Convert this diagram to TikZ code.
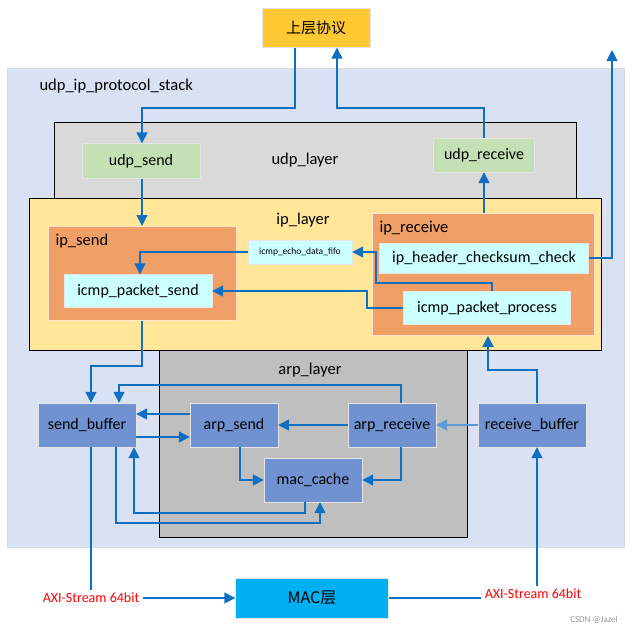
\documentclass[tikz,border=0pt]{standalone}
\usepackage{fontspec}
\setmainfont{Carlito}
\newfontfamily\cjk{Noto Sans CJK SC}
\usetikzlibrary{arrows.meta}
\definecolor{stackbg}{HTML}{DAE1F3}
\definecolor{udpbg}{HTML}{D9D9D9}
\definecolor{ipbg}{HTML}{FFE699}
\definecolor{ipsub}{HTML}{F0A066}
\definecolor{cyanbox}{HTML}{CCFFFF}
\definecolor{greenbox}{HTML}{C5E0B4}
\definecolor{arpbg}{HTML}{BFBFBF}
\definecolor{bluebox}{HTML}{7092D0}
\definecolor{macbox}{HTML}{00B0F0}
\definecolor{topbox}{HTML}{FFC933}
\definecolor{wire}{HTML}{0F6FC0}
\definecolor{lightwire}{HTML}{5B9BD5}
\tikzset{
  layer/.style={draw=black, line width=0.8pt, anchor=north west, inner sep=0pt},
  blk/.style={draw=white!80!gray, minimum height=#1, inner sep=2pt, font=\fontsize{16}{18}\selectfont},
  blk/.default=34pt,
  arr/.style={draw=wire, line width=1.4pt, -{Triangle[length=11pt,width=11pt]}},
  ln/.style={draw=wire, line width=1.4pt},
  lbl/.style={font=\fontsize{16.5}{18}\selectfont},
}
\begin{document}
\begin{tikzpicture}[x=1pt,y=-1pt]
\useasboundingbox (0,0) rectangle (638,633);

% containers
\node[layer, draw=black!15, fill=stackbg, minimum width=617pt, minimum height=479pt] (stack) at (7,68) {};
\node[lbl, anchor=west] (stacklbl) at (36,86) {udp\_ip\_protocol\_stack};
\node[layer, fill=udpbg, minimum width=522pt, minimum height=77pt] (udplayer) at (54,122) {};
\node[lbl] (udplbl) at (305,160) {udp\_layer};
\node[layer, fill=ipbg, minimum width=572pt, minimum height=152pt] (iplayer) at (29,198) {};
\node[lbl] (iplbl) at (303,220) {ip\_layer};
\node[layer, fill=arpbg, minimum width=308pt, minimum height=187pt] (arplayer) at (159,350) {};
\node[lbl] (arplbl) at (310,370) {arp\_layer};
\node[layer, draw=white!80!orange, fill=ipsub, minimum width=188pt, minimum height=94pt] (ipsend) at (48,226) {};
\node[lbl, anchor=west] (ipsendlbl) at (52,241) {ip\_send};
\node[layer, draw=white!80!orange, fill=ipsub, minimum width=222pt, minimum height=122pt] (iprecv) at (372,213) {};
\node[lbl, anchor=west] (iprecvlbl) at (376,228) {ip\_receive};

% blocks
\node[blk=39pt, fill=topbox, minimum width=108pt, font=\cjk\fontsize{15}{17}\selectfont] (upper) at (316,28) {上层协议};
\node[blk=35pt, fill=greenbox, minimum width=118pt] (udpsend) at (141,161) {udp\_send};
\node[blk=34pt, fill=greenbox, minimum width=101pt] (udprecv) at (484,155) {udp\_receive};
\node[blk=24pt, fill=cyanbox, minimum width=104pt, font=\fontsize{9.5}{10}\selectfont] (fifo) at (300,252) {icmp\_echo\_data\_fifo};
\node[blk=30pt, fill=cyanbox, minimum width=209pt] (hdrcheck) at (484,258) {ip\_header\_checksum\_check};
\node[blk=33pt, fill=cyanbox, minimum width=148pt] (icmpsend) at (138,291) {icmp\_packet\_send};
\node[blk=33pt, fill=cyanbox, minimum width=167pt] (icmpproc) at (487,308) {icmp\_packet\_process};
\node[blk=44pt, fill=bluebox, minimum width=98pt] (sendbuf) at (87,425) {send\_buffer};
\node[blk=44pt, fill=bluebox, minimum width=108pt] (recvbuf) at (532,425) {receive\_buffer};
\node[blk=44pt, fill=bluebox, minimum width=88pt] (arpsend) at (234,425) {arp\_send};
\node[blk=44pt, fill=bluebox, minimum width=88pt] (arprecv) at (392,425) {arp\_receive};
\node[blk=44pt, fill=bluebox, minimum width=98pt] (maccache) at (313,480) {mac\_cache};
\node[blk=40pt, fill=macbox, minimum width=153pt, font=\fontsize{16}{18}\selectfont\cjk] (mac) at (312,598) {MAC层};
\node[text=red, font=\fontsize{14}{16}\selectfont] (axil) at (91,598) {AXI-Stream 64bit};
\node[text=red, font=\fontsize{14}{16}\selectfont] (axir) at (533,594) {AXI-Stream 64bit};
\node[text=black!40, font=\fontsize{9}{10}\selectfont] (csdn) at (594,620) {CSDN @Jazel};
\coordinate (upout) at (612,50);

% upper protocol and udp
\draw[arr] (upper.south -| 295,0) |- (142,108) -- (udpsend.north -| 142,0);
\draw[arr] (udprecv.north) |- (337,108) -- (upper.south -| 337,0);
\draw[arr] (udpsend.south -| 142,0) -- (ipsend.north -| 142,0);
\draw[arr] (iprecv.north -| 484,0) -- (udprecv.south);
\draw[arr] (hdrcheck.east) -| (upout);

% ip layer
\draw[arr] (icmpproc.north -| 492,0) |- (376,283) |- (fifo.east);
\draw[arr] (fifo.west) -| (icmpsend.north -| 140,0);
\draw[arr] (icmpproc.west) -| (367,291) -- (icmpsend.east |- 0,291);
\draw[arr] (ipsend.south -| 142,0) |- (91,366) -- (sendbuf.north -| 91,0);
\draw[arr] (recvbuf.north -| 537,0) |- (488,370) -- (iprecv.south -| 488,0);

% arp layer
\draw[arr] (arprecv.north -| 401,0) |- (119,385) -- (sendbuf.north -| 119,0);
\draw[arr] (arpsend.west |- 0,414) -- (sendbuf.east |- 0,414);
\draw[arr] (sendbuf.east |- 0,437) -- (arpsend.west |- 0,437);
\draw[arr] (arprecv.west) -- (arpsend.east);
\draw[arr, draw=lightwire] (recvbuf.west) -- (arprecv.east);
\draw[arr] (arpsend.south -| 240,0) |- (maccache.west);
\draw[arr] (arprecv.south -| 401,0) |- (maccache.east);
\draw[arr] (maccache.south -| 305,0) |- (134,513) -- (sendbuf.south -| 134,0);
\draw[arr] (sendbuf.south -| 116,0) |- (320,523) -- (maccache.south -| 320,0);

% mac
\draw[ln] (sendbuf.south -| 91,0) -- (axil.north -| 91,0);
\draw[arr] (axil.east) -- (mac.west);
\draw[ln] (mac.east) -- (axir.west |- mac.east);
\draw[arr] (axir.north -| 537,0) -- (recvbuf.south -| 537,0);
\end{tikzpicture}
\end{document}
